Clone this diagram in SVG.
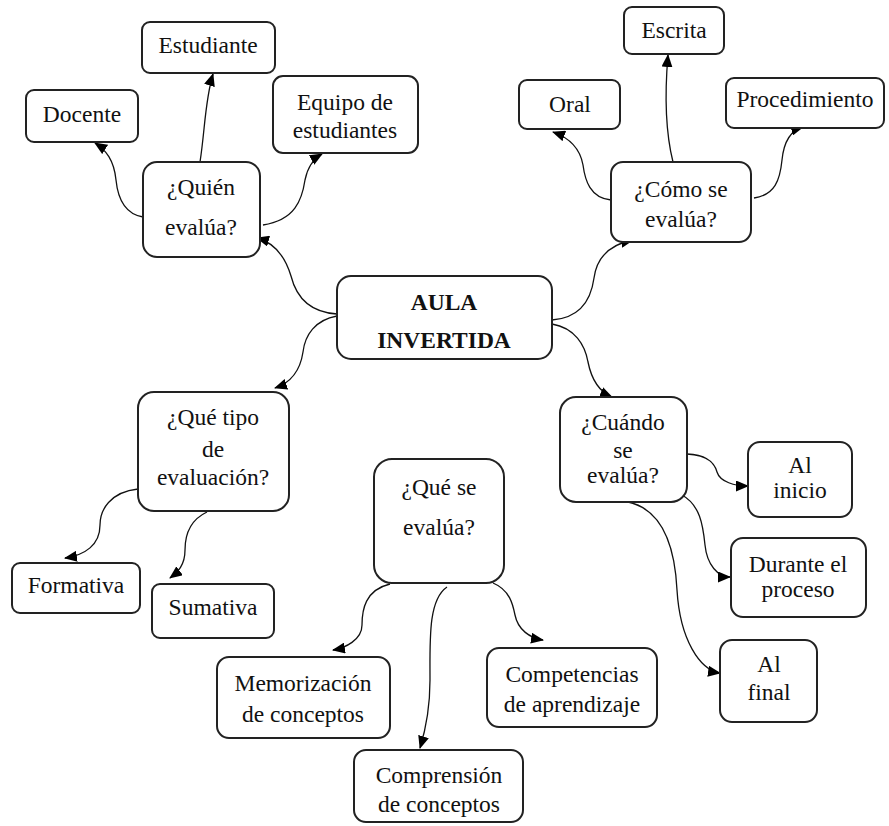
<svg xmlns="http://www.w3.org/2000/svg" width="889" height="826" viewBox="0 0 889 826">
<defs>
<marker id="ah" markerWidth="13" markerHeight="11" refX="12" refY="5.5" orient="auto" markerUnits="userSpaceOnUse">
<path d="M0,0 L13,5.5 L0,11 z" fill="#000"/>
</marker>
<style>
.box{fill:#fff;stroke:#222;stroke-width:2}
.t{font-family:"Liberation Serif","Times New Roman",serif;font-size:23.5px;fill:#111;text-anchor:middle}
.b{font-weight:bold}
.c{fill:none;stroke:#111;stroke-width:1.3;marker-end:url(#ah)}
</style>
</defs>
<rect width="889" height="826" fill="#fff"/>
<g id="connectors">
<path class="c" d="M337,314 C305,312 295,292 291,276 C284,253 272,242 257,238"/>
<path class="c" d="M552,320 C580,318 591,300 594,278 C597,256 612,244 633,240"/>
<path class="c" d="M337,316 C315,320 305,335 303,352 C300,372 290,383 275,388"/>
<path class="c" d="M552,324 C575,328 585,345 588,362 C592,382 600,392 612,397"/>
<path class="c" d="M143,217 C125,214 118,200 116,180 C114,160 106,150 95,143"/>
<path class="c" d="M200,162 C205,130 205,100 213,74"/>
<path class="c" d="M263,225 C295,220 302,200 305,180 C308,165 315,158 322,154"/>
<path class="c" d="M611,200 C590,198 585,180 583,165 C580,148 570,138 553,132"/>
<path class="c" d="M673,162 C665,130 665,90 668,55"/>
<path class="c" d="M754,198 C775,195 780,180 782,160 C784,140 792,130 803,127"/>
<path class="c" d="M138,489 C110,492 100,510 100,525 C100,545 85,555 65,558"/>
<path class="c" d="M207,512 C190,520 185,535 185,550 C185,565 178,572 170,578"/>
<path class="c" d="M390,584 C365,590 362,610 362,625 C362,640 345,648 333,650"/>
<path class="c" d="M447,587 C428,600 430,640 430,680 C430,710 424,735 420,748"/>
<path class="c" d="M493,583 C510,590 513,605 515,615 C518,630 530,638 543,640"/>
<path class="c" d="M687,454 C710,455 715,465 717,472 C720,482 735,486 748,486"/>
<path class="c" d="M682,495 C700,505 703,525 705,545 C707,565 718,577 730,577"/>
<path class="c" d="M628,502 C665,510 675,550 677,590 C680,640 700,670 720,673"/>
</g>
<g id="aula">
<rect class="box" x="337" y="276" width="215" height="83" rx="14"/>
<text class="t b" x="444" y="310">AULA</text>
<text class="t b" x="444" y="348">INVERTIDA</text>
</g>
<g id="quien">
<rect class="box" x="143" y="162" width="117" height="95" rx="14"/>
<text class="t" x="201" y="195">¿Quién</text>
<text class="t" x="201" y="235">evalúa?</text>
</g>
<g id="docente">
<rect class="box" x="26" y="90" width="112" height="52" rx="8"/>
<text class="t" x="82" y="122">Docente</text>
</g>
<g id="estudiante">
<rect class="box" x="142" y="22" width="133" height="51" rx="8"/>
<text class="t" x="208" y="53">Estudiante</text>
</g>
<g id="equipo">
<rect class="box" x="273" y="76" width="145" height="77" rx="10"/>
<text class="t" x="345" y="110">Equipo de</text>
<text class="t" x="345" y="138">estudiantes</text>
</g>
<g id="como">
<rect class="box" x="611" y="162" width="140" height="80" rx="12"/>
<text class="t" x="681" y="197">¿Cómo se</text>
<text class="t" x="681" y="227">evalúa?</text>
</g>
<g id="oral">
<rect class="box" x="519" y="80" width="101" height="49" rx="8"/>
<text class="t" x="570" y="112">Oral</text>
</g>
<g id="escrita">
<rect class="box" x="624" y="7" width="100" height="47" rx="8"/>
<text class="t" x="674" y="38">Escrita</text>
</g>
<g id="procedimiento">
<rect class="box" x="726" y="78" width="158" height="50" rx="8"/>
<text class="t" x="805" y="107">Procedimiento</text>
</g>
<g id="quetipo">
<rect class="box" x="138" y="392" width="151" height="119" rx="16"/>
<text class="t" x="213" y="425">¿Qué tipo</text>
<text class="t" x="213" y="457">de</text>
<text class="t" x="213" y="485">evaluación?</text>
</g>
<g id="formativa">
<rect class="box" x="12" y="563" width="128" height="50" rx="8"/>
<text class="t" x="76" y="593">Formativa</text>
</g>
<g id="sumativa">
<rect class="box" x="152" y="584" width="122" height="54" rx="8"/>
<text class="t" x="213" y="615">Sumativa</text>
</g>
<g id="quese">
<rect class="box" x="374" y="459" width="130" height="124" rx="18"/>
<text class="t" x="439" y="495">¿Qué se</text>
<text class="t" x="439" y="535">evalúa?</text>
</g>
<g id="memorizacion">
<rect class="box" x="217" y="657" width="173" height="81" rx="12"/>
<text class="t" x="303" y="691">Memorización</text>
<text class="t" x="303" y="722">de conceptos</text>
</g>
<g id="comprension">
<rect class="box" x="354" y="750" width="169" height="72" rx="12"/>
<text class="t" x="439" y="783">Comprensión</text>
<text class="t" x="439" y="812">de conceptos</text>
</g>
<g id="competencias">
<rect class="box" x="487" y="648" width="170" height="79" rx="12"/>
<text class="t" x="572" y="682">Competencias</text>
<text class="t" x="572" y="712">de aprendizaje</text>
</g>
<g id="cuando">
<rect class="box" x="560" y="397" width="127" height="105" rx="16"/>
<text class="t" x="623" y="430">¿Cuándo</text>
<text class="t" x="623" y="458">se</text>
<text class="t" x="623" y="483">evalúa?</text>
</g>
<g id="alinicio">
<rect class="box" x="748" y="442" width="104" height="75" rx="12"/>
<text class="t" x="800" y="473">Al</text>
<text class="t" x="800" y="498">inicio</text>
</g>
<g id="durante">
<rect class="box" x="731" y="538" width="135" height="79" rx="12"/>
<text class="t" x="798" y="572">Durante el</text>
<text class="t" x="798" y="597">proceso</text>
</g>
<g id="alfinal">
<rect class="box" x="720" y="640" width="97" height="82" rx="12"/>
<text class="t" x="769" y="672">Al</text>
<text class="t" x="769" y="700">final</text>
</g>
</svg>
